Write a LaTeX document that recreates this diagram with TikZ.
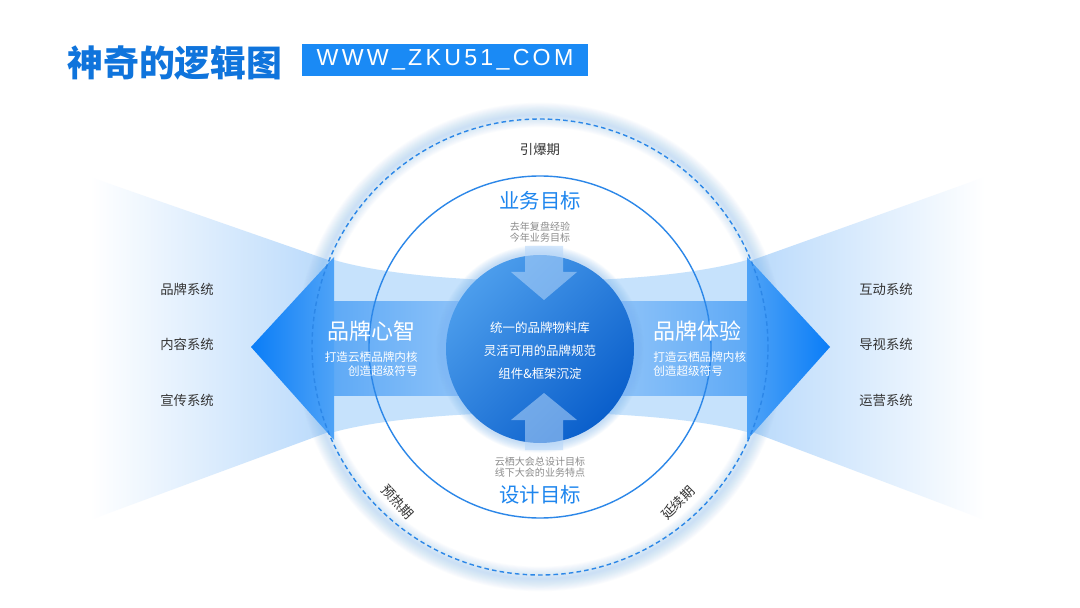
\documentclass[tikz,border=0pt]{standalone}
\usepackage{fontspec}
\setmainfont{Noto Sans CJK SC}
\newfontfamily\urlfont{Liberation Sans}[LetterSpace=14]

\definecolor{titleblue}{HTML}{0F74DC}
\definecolor{boxblue}{HTML}{1A8AF5}
\definecolor{headblue}{HTML}{0A7DF7}
\definecolor{headlight}{HTML}{4FA3F7}
\definecolor{shaftdark}{HTML}{5FAAF6}
\definecolor{shaftlight}{HTML}{A9D1FA}
\definecolor{bandblue}{HTML}{C6E2FC}
\definecolor{fanblue}{HTML}{B8D9FB}
\definecolor{lineblue}{HTML}{2C87E8}
\definecolor{glowblue}{HTML}{7FB8F5}
\definecolor{balllight}{HTML}{4C9DEC}
\definecolor{balldark}{HTML}{0A5FCB}
\definecolor{pointer}{HTML}{B5D6FA}
\definecolor{goalblue}{HTML}{1E86EE}
\definecolor{textgray}{HTML}{333333}
\definecolor{notegray}{HTML}{8C8C8C}

\begin{document}
\begin{tikzpicture}[x=0.02cm,y=-0.02cm,inner sep=0pt,
    syslabel/.style={text=textgray,font=\fontsize{7.6}{9}\selectfont},
    phase/.style={text=textgray,font=\fontsize{7.6}{9}\selectfont},
    goal/.style={text=goalblue,font=\fontsize{11.6}{13}\selectfont},
    note/.style={text=notegray,font=\fontsize{5.7}{6.3}\selectfont,align=center},
    core/.style={text=white,font=\fontsize{7.1}{8}\selectfont},
    brand/.style={text=white,font=\fontsize{12.5}{14}\selectfont},
    brandsub/.style={text=white,font=\fontsize{6.6}{7.9}\selectfont}]
  \fill[white] (0,0) rectangle (1080,608);
  \useasboundingbox (0,0) rectangle (1080,608);

  % heading
  \node[anchor=west,text=titleblue,font=\fontsize{20.4}{22}\selectfont\bfseries]
    (title) at (67,63) {神奇的逻辑图};
  \node[fill=boxblue,text=white,minimum width=5.72cm,minimum height=0.64cm,
    font=\urlfont\fontsize{13.2}{16}\selectfont] (url) at (445,60) {WWW\_ZKU51\_COM};

  % fans
  \shade[left color=white,right color=fanblue]
    (90,177) -- (334,262) -- (334,430) -- (90,520) -- cycle;
  \shade[left color=fanblue,right color=white]
    (747,262) -- (985,177) -- (985,520) -- (747,430) -- cycle;

  % glow of the outer ring
  \foreach \w in {1,2,...,14}
    \draw[glowblue,line width=\w pt,opacity=0.03] (540,347) circle (232);

  % band and arrows
  \fill[bandblue] (334,260) .. controls (430,288) and (650,288) .. (747,260)
    -- (747,432) .. controls (650,406) and (430,406) .. (334,432) -- cycle;
  \shade[left color=shaftdark,right color=shaftlight] (334,302) rectangle (540,395);
  \shade[left color=shaftlight,right color=shaftdark] (540,302) rectangle (747,395);
  \shade[left color=headblue,right color=headlight]
    (251,347) -- (334,257) -- (334,440) -- cycle;
  \shade[left color=headlight,right color=headblue]
    (747,257) -- (830,347) -- (747,440) -- cycle;

  % rings
  \draw[lineblue,line width=0.8pt] (540,347) circle (171);
  \draw[lineblue,line width=0.8pt,dash pattern=on 2.6pt off 1.8pt] (540,347) circle (228);

  % core ball
  \foreach \w in {1,2,...,10}
    \draw[glowblue,line width=\w pt,opacity=0.05] (540,349) circle (95);
  \shade[top color=balllight,bottom color=balldark,shading angle=45] (540,349) circle (94);
  \fill[pointer,opacity=0.55] (525,246) -- (563,246) -- (563,272) -- (577,272)
    -- (544,300) -- (511,272) -- (525,272) -- cycle;
  \fill[pointer,opacity=0.55] (525,450) -- (563,450) -- (563,420) -- (577,420)
    -- (544,393) -- (511,420) -- (525,420) -- cycle;

  \node[core] (core1) at (540,328) {统一的品牌物料库};
  \node[core] (core2) at (540,351) {灵活可用的品牌规范};
  \node[core] (core3) at (540,374) {组件\&框架沉淀};

  % goals and phases
  \node[phase] (boom) at (540,149) {引爆期};
  \node[goal] (bizgoal) at (540,201) {业务目标};
  \node[note] (biznote) at (540,232) {去年复盘经验\\今年业务目标};
  \node[note] (designnote) at (540,467) {云栖大会总设计目标\\线下大会的业务特点};
  \node[goal] (designgoal) at (540,495) {设计目标};
  \node[phase,rotate=-47] (warm) at (398,502) {预热期};
  \node[phase,rotate=45] (last) at (678,503) {延续期};

  % brand sides
  \node[brand,anchor=east] (mind) at (416,331) {品牌心智};
  \node[brandsub,anchor=east,align=right] (mindsub) at (418,364) {打造云栖品牌内核\\创造超级符号};
  \node[brand,anchor=west] (exp) at (653,331) {品牌体验};
  \node[brandsub,anchor=west,align=left] (expsub) at (653,364) {打造云栖品牌内核\\创造超级符号};

  \foreach \t/\y [count=\i] in {品牌系统/289,内容系统/344,宣传系统/400}
    \node[syslabel] (sysL\i) at (187,\y) {\t};
  \foreach \t/\y [count=\i] in {互动系统/289,导视系统/344,运营系统/400}
    \node[syslabel] (sysR\i) at (886,\y) {\t};
\end{tikzpicture}
\end{document}
